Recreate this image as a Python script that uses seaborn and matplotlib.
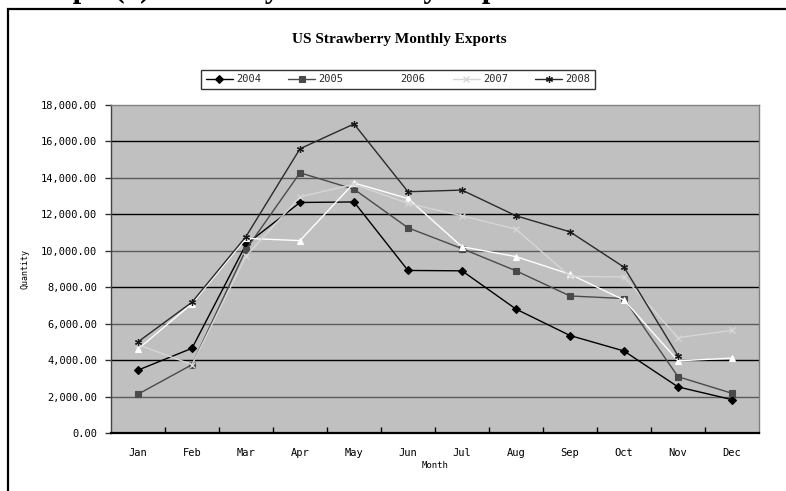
import matplotlib
matplotlib.use("Agg")
import numpy as np
import pandas as pd
import matplotlib.pyplot as plt
import seaborn as sns
from matplotlib.patches import Rectangle
from matplotlib.ticker import FuncFormatter, FixedLocator

# Monthly strawberry export quantities by year
months = ["Jan", "Feb", "Mar", "Apr", "May", "Jun",
          "Jul", "Aug", "Sep", "Oct", "Nov", "Dec"]
years = ["2004", "2005", "2006", "2007", "2008"]

exports_2004 = [3450, 4650, 10350, 12650, 12680, 8920, 8900, 6800, 5350, 4500, 2530, 1830]
exports_2005 = [2130, 3750, 10070, 14280, 13380, 11260, 10120, 8900, 7520, 7380, 3090, 2180]
exports_2006 = [4600, 7100, 10680, 10560, 13720, 12870, 10220, 9680, 8710, 7300, 3960, 4110]
exports_2007 = [4850, 3750, 9700, 12960, 13650, 12600, 11920, 11180, 8600, 8560, 5230, 5630]
exports_2008 = [5000, 7180, 10780, 15600, 16960, 13240, 13330, 11920, 11040, 9100, 4240, np.nan]

y_ticks = [0, 2000, 4000, 6000, 8000, 10000, 12000, 14000, 16000, 18000]

series = {"2004": exports_2004, "2005": exports_2005, "2006": exports_2006,
          "2007": exports_2007, "2008": exports_2008}
df = pd.DataFrame([
    {"Month": m, "Year": y, "Quantity": v}
    for y in years for m, v in zip(months, series[y])
])

sns.set_theme(style="white")
plt.rcParams["font.family"] = ["DejaVu Sans Mono"]

W, H = 786, 491
fig = plt.figure(figsize=(W / 100, H / 100), dpi=100)
fig.patch.set_facecolor("white")

# plot area in pixel terms
left, right, top, bottom = 111, 759, 105, 433
ax = fig.add_axes([left / W, 1 - bottom / H, (right - left) / W, (bottom - top) / H])
ax.set_facecolor("#c0c0c0")

styles = {
    "2004": dict(color="#000000", marker="D", markersize=3.8, mec="#000000", mfc="#000000", mew=0.8),
    "2005": dict(color="#4a4a4a", marker="s", markersize=4.5, mec="#4a4a4a", mfc="#4a4a4a", mew=0.8),
    "2006": dict(color="#ffffff", marker="^", markersize=4.5, mec="#ffffff", mfc="#ffffff", mew=0.8),
    "2007": dict(color="#d6d6d6", marker="x", markersize=4.5, mec="#d6d6d6", mfc="#d6d6d6", mew=1.0),
    "2008": dict(color="#2a2a2a", marker=(6, 2, 0), markersize=5, mec="#1a1a1a", mfc="#1a1a1a", mew=0.9),
}

# horizontal gridlines (alternating tone)
for i, t in enumerate(y_ticks[1:-1], start=1):
    ax.axhline(t, color="#5a5a5a" if i % 2 == 1 else "#000000", lw=1.0, zorder=1)

for y in years:
    sub = df[df["Year"] == y]
    st = styles[y]
    sns.lineplot(data=sub, x="Month", y="Quantity", ax=ax, label=y,
                 color=st["color"], lw=1.0, marker=st["marker"],
                 markersize=st["markersize"], markeredgecolor=st["mec"],
                 markerfacecolor=st["mfc"], markeredgewidth=st["mew"],
                 sort=False, zorder=3)

ax.set_xlim(-0.5, len(months) - 0.5)
ax.set_ylim(0, 18000)
ax.yaxis.set_major_locator(FixedLocator(y_ticks))
ax.yaxis.set_major_formatter(FuncFormatter(lambda v, p: f"{v:,.2f}"))
ax.set_xticks(range(len(months)))
ax.set_xticklabels(months)
ax.set_xticks(np.arange(0.5, len(months) - 0.5, 1.0), minor=True)

ax.tick_params(axis="y", which="major", direction="out", length=4, width=1,
               color="#333333", labelsize=7.5, pad=6, labelcolor="black", left=True)
ax.tick_params(axis="x", which="major", length=0, labelsize=7.5, pad=11, labelcolor="black")
ax.tick_params(axis="x", which="minor", direction="in", length=4, width=1,
               color="#000000", bottom=True)

for side in ["top", "right"]:
    ax.spines[side].set_color("#808080")
    ax.spines[side].set_linewidth(1.0)
ax.spines["left"].set_color("#444444")
ax.spines["left"].set_linewidth(1.0)
ax.spines["bottom"].set_color("#000000")
ax.spines["bottom"].set_linewidth(1.6)

ax.set_ylabel("Quantity", fontsize=6, color="black")
ax.yaxis.set_label_coords((29 - left) / (right - left), 0.5)
ax.set_xlabel("Month", fontsize=6.5, color="black")
ax.xaxis.set_label_coords(0.5, (bottom - 461) / (bottom - top))

handles, labels = ax.get_legend_handles_labels()
ax.get_legend().remove()
leg = fig.legend(handles, labels, ncol=5, loc="center",
                 bbox_to_anchor=(398 / W, 1 - 79.5 / H), frameon=True,
                 fancybox=False, edgecolor="black", facecolor="white",
                 handlelength=2.6, handletextpad=0.3, columnspacing=2.6,
                 fontsize=7.5, borderpad=0.45)
leg.get_frame().set_linewidth(1.0)

fig.text(399 / W, 1 - 40 / H, "US Strawberry Monthly Exports",
         family="Liberation Serif", fontweight="bold", fontsize=11,
         ha="center", va="center", color="black")

# page heading above the chart, running off the top edge
fig.text(20 / W, 1 + 2.5 / H, "Graph (1): Monthly Strawberry Exports",
         family="Liberation Serif", fontweight="bold", fontsize=22,
         ha="left", va="baseline", color="black")

# outer chart border
fig.add_artist(Rectangle((8 / W, -0.2), 1.5, 1.2 - 9 / H, transform=fig.transFigure,
                         fill=False, edgecolor="black", lw=1.6))

fig.savefig("out.png", dpi=100)
